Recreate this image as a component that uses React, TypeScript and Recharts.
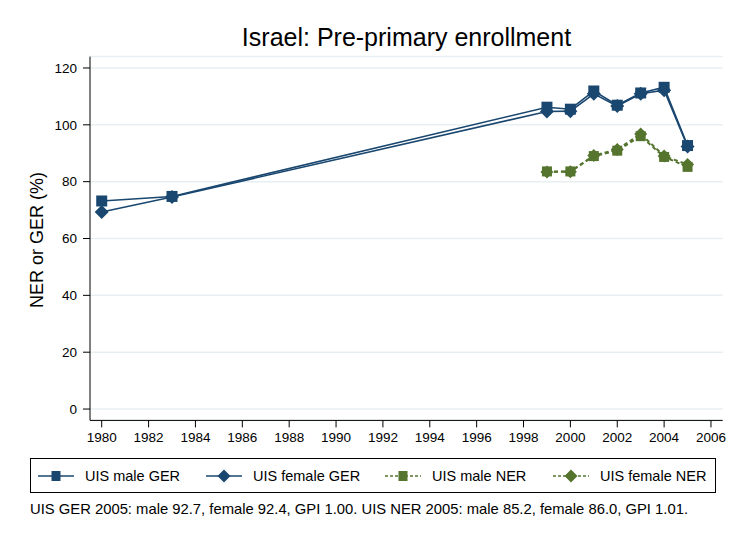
import { LineChart, Line, XAxis, YAxis, CartesianGrid } from "recharts";

const gerYears = [1980, 1983, 1999, 2000, 2001, 2002, 2003, 2004, 2005];
const maleGer = [73.2, 74.8, 106.2, 105.5, 111.9, 106.9, 111.2, 113.2, 92.7];
const femaleGer = [69.3, 74.6, 104.7, 104.8, 110.9, 106.6, 110.9, 112.2, 92.4];

const nerYears = [1999, 2000, 2001, 2002, 2003, 2004, 2005];
const maleNer = [83.6, 83.6, 89.0, 90.9, 96.0, 88.7, 85.2];
const femaleNer = [83.4, 83.5, 89.2, 91.3, 96.8, 89.0, 86.0];

const xTicks = [1980, 1982, 1984, 1986, 1988, 1990, 1992, 1994, 1996, 1998, 2000, 2002, 2004, 2006];
const yTicks = [0, 20, 40, 60, 80, 100, 120];

const NAVY = "#1a476f";
const GREEN = "#55752f";
const FONT = "'Liberation Sans', Arial, sans-serif";

const toRows = (years: number[], vals: number[]) =>
  years.map((year, i) => ({ year, value: vals[i] }));

const squareDot = (size: number, color: string, tag: string) => (props: any) => {
  const { cx, cy, index } = props;
  if (cx == null || cy == null) return <g key={`${tag}-${index}`} />;
  return (
    <rect
      key={`${tag}-${index}`}
      x={cx - size / 2}
      y={cy - size / 2}
      width={size}
      height={size}
      fill={color}
    />
  );
};

const diamondDot = (r: number, color: string, tag: string) => (props: any) => {
  const { cx, cy, index } = props;
  if (cx == null || cy == null) return <g key={`${tag}-${index}`} />;
  return (
    <polygon
      key={`${tag}-${index}`}
      points={`${cx},${cy - r} ${cx + r},${cy} ${cx},${cy + r} ${cx - r},${cy}`}
      fill={color}
    />
  );
};

function LegendItem({ color, dashed, shape, label, left }: any) {
  return (
    <div style={{ position: "absolute", left, top: 0, height: 33, display: "flex", alignItems: "center" }}>
      <svg width={36} height={14} style={{ marginRight: 11 }}>
        <line
          x1={0}
          x2={36}
          y1={7}
          y2={7}
          stroke={color}
          strokeWidth={1.5}
          strokeDasharray={dashed ? "3 2" : undefined}
        />
        {shape === "square" ? (
          <rect x={13.5} y={2} width={9} height={10} fill={color} />
        ) : (
          <polygon points="18,0.5 24.5,7 18,13.5 11.5,7" fill={color} />
        )}
      </svg>
      <span style={{ fontSize: 14.5, color: "#000" }}>{label}</span>
    </div>
  );
}

export default function App() {
  return (
    <div
      style={{
        position: "absolute",
        left: 0,
        top: 0,
        width: 731,
        height: 538,
        background: "#fff",
        fontFamily: FONT,
      }}
    >
      <div
        style={{
          position: "absolute",
          left: 90,
          width: 633,
          top: 23,
          textAlign: "center",
          fontSize: 25,
          color: "#000",
        }}
      >
        Israel: Pre-primary enrollment
      </div>
      <div
        style={{
          position: "absolute",
          left: 37,
          top: 240,
          transform: "translate(-50%, -50%) rotate(-90deg)",
          whiteSpace: "nowrap",
          fontSize: 18,
          color: "#000",
        }}
      >
        NER or GER (%)
      </div>

      <LineChart
        width={731}
        height={538}
        margin={{ top: 56.6, right: 8.3, left: 40, bottom: 87.6 }}
        style={{ position: "absolute", left: 0, top: 0 }}
      >
        <CartesianGrid horizontal vertical={false} stroke="#e8eff2" strokeWidth={1.5} />
        <XAxis
          type="number"
          dataKey="year"
          domain={[1979.5, 2006.5]}
          ticks={xTicks}
          interval={0}
          allowDataOverflow
          height={30}
          stroke="#000"
          tickSize={7}
          tickMargin={5}
          tick={{ fontSize: 13.5, fill: "#000", fontFamily: FONT }}
          tickLine={{ stroke: "#000" }}
        />
        <YAxis
          type="number"
          domain={[-4, 124]}
          ticks={yTicks}
          interval={0}
          allowDataOverflow
          width={50}
          stroke="#000"
          tickSize={7}
          tickMargin={6}
          tick={{ fontSize: 13.5, fill: "#000", fontFamily: FONT }}
          tickLine={{ stroke: "#000" }}
        />
        <Line
          data={toRows(gerYears, maleGer)}
          dataKey="value"
          stroke={NAVY}
          strokeWidth={1.6}
          dot={squareDot(11, NAVY, "mg")}
          isAnimationActive={false}
        />
        <Line
          data={toRows(gerYears, femaleGer)}
          dataKey="value"
          stroke={NAVY}
          strokeWidth={1.6}
          dot={diamondDot(7, NAVY, "fg")}
          isAnimationActive={false}
        />
        <Line
          data={toRows(nerYears, maleNer)}
          dataKey="value"
          stroke={GREEN}
          strokeWidth={2}
          strokeDasharray="4 3"
          dot={squareDot(10, GREEN, "mn")}
          isAnimationActive={false}
        />
        <Line
          data={toRows(nerYears, femaleNer)}
          dataKey="value"
          stroke={GREEN}
          strokeWidth={2}
          strokeDasharray="4 3"
          dot={diamondDot(6.5, GREEN, "fn")}
          isAnimationActive={false}
        />
      </LineChart>

      <div
        style={{
          position: "absolute",
          left: 30,
          top: 458,
          width: 684,
          height: 33,
          border: "1px solid #000",
        }}
      >
        <LegendItem color={NAVY} shape="square" label="UIS male GER" left={7} />
        <LegendItem color={NAVY} shape="diamond" label="UIS female GER" left={175} />
        <LegendItem color={GREEN} dashed shape="square" label="UIS male NER" left={354} />
        <LegendItem color={GREEN} dashed shape="diamond" label="UIS female NER" left={522} />
      </div>

      <div style={{ position: "absolute", left: 30, top: 501, fontSize: 14.8, color: "#000" }}>
        UIS GER 2005: male 92.7, female 92.4, GPI 1.00. UIS NER 2005: male 85.2, female 86.0, GPI 1.01.
      </div>
    </div>
  );
}
